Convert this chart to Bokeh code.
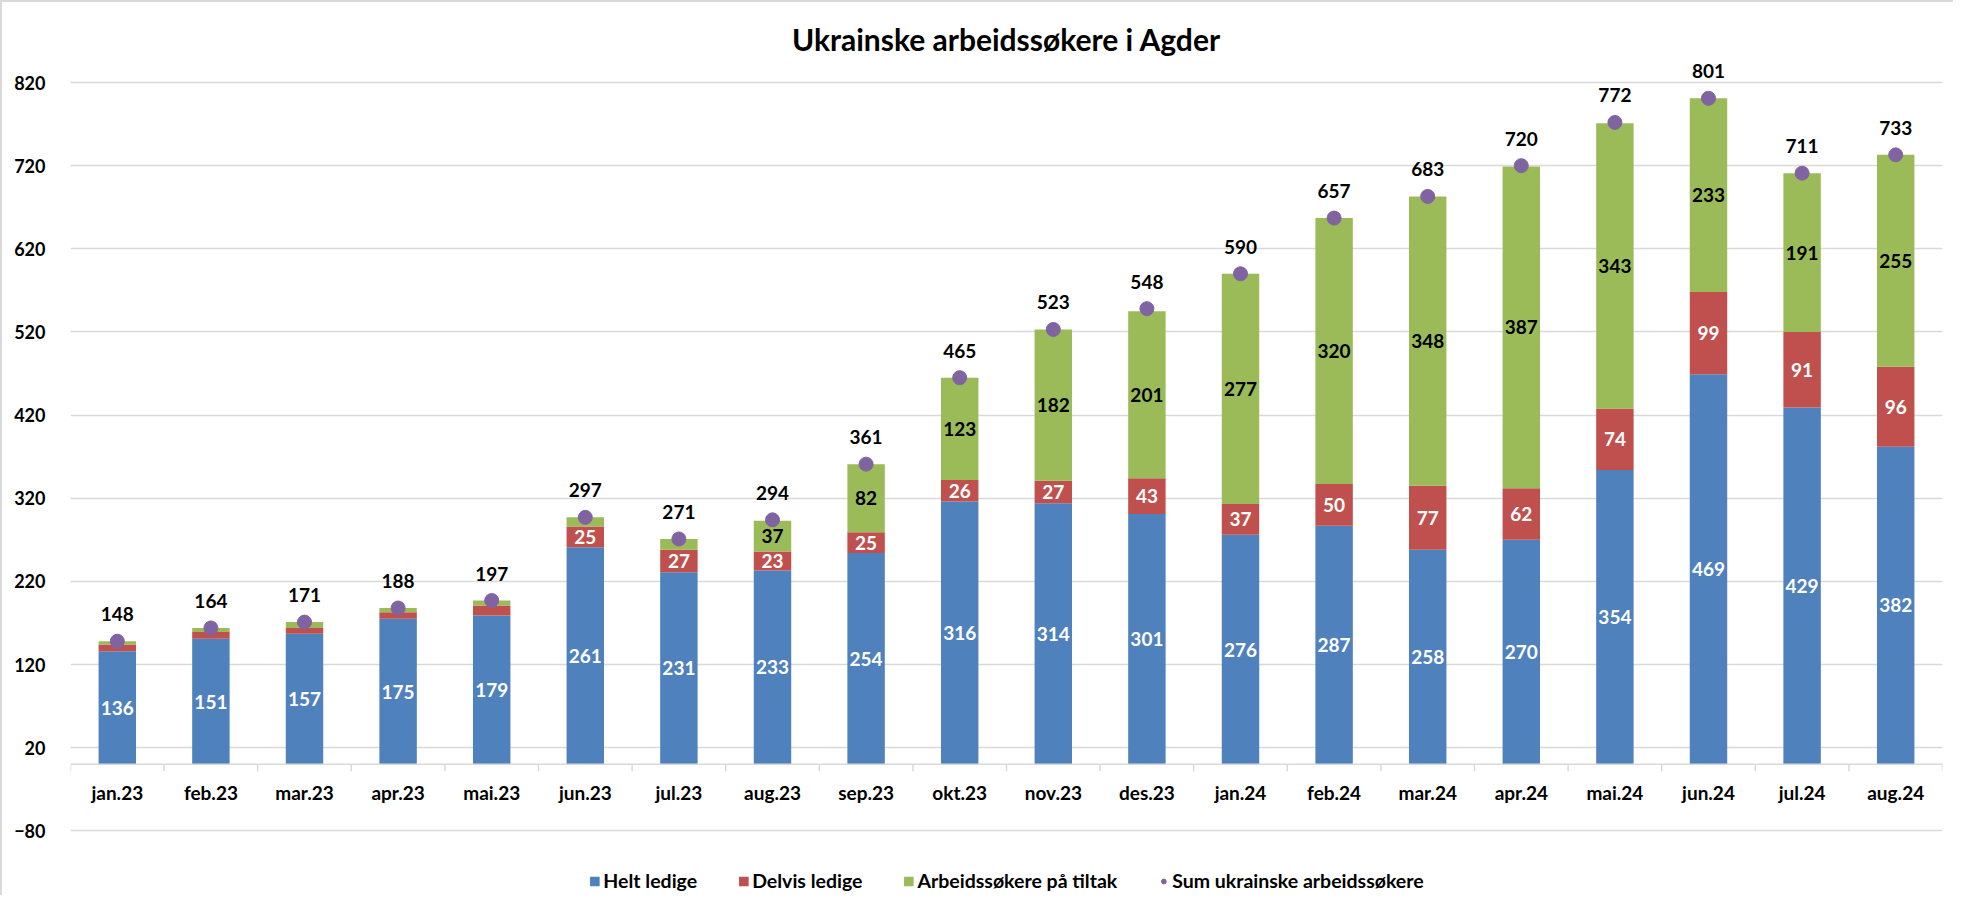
from bokeh.plotting import figure
from bokeh.models import ColumnDataSource, FixedTicker, Span, Legend, LegendItem, Range1d
from bokeh.transform import dodge
from bokeh.core.properties import value
from bokeh.embed import file_html
from bokeh.resources import INLINE

# ---------------- data ----------------
months = ["jan.23", "feb.23", "mar.23", "apr.23", "mai.23", "jun.23", "jul.23", "aug.23",
          "sep.23", "okt.23", "nov.23", "des.23", "jan.24", "feb.24", "mar.24", "apr.24",
          "mai.24", "jun.24", "jul.24", "aug.24"]
helt = [136, 151, 157, 175, 179, 261, 231, 233, 254, 316, 314, 301, 276, 287, 258, 270, 354, 469, 429, 382]
delvis = [8, 8, 7, 8, 12, 25, 27, 23, 25, 26, 27, 43, 37, 50, 77, 62, 74, 99, 91, 96]
tiltak = [4, 5, 7, 5, 6, 11, 13, 37, 82, 123, 182, 201, 277, 320, 348, 387, 343, 233, 191, 255]
sums = [148, 164, 171, 188, 197, 297, 271, 294, 361, 465, 523, 548, 590, 657, 683, 720, 772, 801, 711, 733]
y_ticks = [-80, 20, 120, 220, 320, 420, 520, 620, 720, 820]
series_names = ["Helt ledige", "Delvis ledige", "Arbeidssøkere på tiltak", "Sum ukrainske arbeidssøkere"]
title_text = "Ukrainske arbeidssøkere i Agder"

# ---------------- style ----------------
FONT = "Lato"
C_HELT, C_DELVIS, C_TILTAK, C_SUM = "#4F81BD", "#C0504D", "#9BBB59", "#8064A2"
GRID = "#D9D9D9"
W, H = 1953, 895

p = figure(x_range=months, y_range=Range1d(-157.8, 851.3), width=W, height=H,
           output_backend="svg", toolbar_location=None, x_axis_location=None,
           min_border_left=70, min_border_right=11, min_border_top=56, min_border_bottom=0,
           border_fill_alpha=0.0, outline_line_color=None)
p.styles = {"box-shadow": "inset 2px 2px 0 0 #D9D9D9"}

p.title.text = title_text
p.title.align = "center"
p.title.text_font = FONT
p.title.text_font_size = "30px"
p.title.text_font_style = "bold"
p.title.text_color = "#000000"
p.title.standoff = 0

p.yaxis.ticker = FixedTicker(ticks=y_ticks)
p.yaxis.axis_line_color = None
p.yaxis.major_tick_line_color = None
p.yaxis.minor_tick_line_color = None
p.yaxis.major_label_standoff = 19
p.yaxis.major_label_text_font = FONT
p.yaxis.major_label_text_font_style = "bold"
p.yaxis.major_label_text_font_size = "18px"
p.yaxis.major_label_text_color = "#000000"
p.ygrid.grid_line_color = GRID
p.ygrid.grid_line_width = 1.5
p.xgrid.visible = False

src = ColumnDataSource(dict(x=months, helt=helt, delvis=delvis, tiltak=tiltak, s=sums))
bars = p.vbar_stack(["helt", "delvis", "tiltak"], x="x", width=0.4,
                    color=[C_HELT, C_DELVIS, C_TILTAK], line_color=None, source=src)

# category axis line at 0 and boundary ticks
p.add_layout(Span(location=0, dimension="width", line_color=GRID, line_width=1.5))
TICK_LEN = 8.4
p.segment(x0=dodge("x", -0.5, range=p.x_range), y0=0, x1=dodge("x", -0.5, range=p.x_range),
          y1=-TICK_LEN, source=src, line_color=GRID, line_width=1.5)
last = ColumnDataSource(dict(x=[months[-1]]))
p.segment(x0=dodge("x", 0.5, range=p.x_range), y0=0, x1=dodge("x", 0.5, range=p.x_range),
          y1=-TICK_LEN, source=last, line_color=GRID, line_width=1.5)
p.text(x=months, y=[0] * len(months), text=months, y_offset=28, text_align="center",
       text_baseline="middle", text_font=value(FONT), text_font_style="bold",
       text_font_size="19px", text_color="#000000")

# sum markers
dots = p.scatter(x="x", y="s", size=14, color=C_SUM, source=src)

lab_kw = dict(text_align="center", text_baseline="middle", text_font=value(FONT),
              text_font_style="bold", text_font_size="19px")

# data labels
p.text(x=months, y=[h / 2 for h in helt], text=[str(v) for v in helt], text_color="white", **lab_kw)
di = [i for i, v in enumerate(delvis) if v >= 20]
p.text(x=[months[i] for i in di], y=[helt[i] + delvis[i] / 2 for i in di],
       text=[str(delvis[i]) for i in di], text_color="white", **lab_kw)
ti = [i for i, v in enumerate(tiltak) if v >= 20]
p.text(x=[months[i] for i in ti], y=[helt[i] + delvis[i] + tiltak[i] / 2 for i in ti],
       text=[str(tiltak[i]) for i in ti], text_color="#000000", **lab_kw)
p.text(x=months, y=sums, text=[str(v) for v in sums], y_offset=-27, text_color="#000000", **lab_kw)

legend = Legend(items=[LegendItem(label=series_names[0], renderers=[bars[0]]),
                       LegendItem(label=series_names[1], renderers=[bars[1]]),
                       LegendItem(label=series_names[2], renderers=[bars[2]]),
                       LegendItem(label=series_names[3], renderers=[dots])],
                orientation="horizontal", location="bottom_center",
                border_line_color=None, background_fill_alpha=0.0,
                label_text_font=FONT, label_text_font_style="bold", label_text_font_size="19.5px",
                label_text_color="#000000", glyph_width=12, glyph_height=12,
                spacing=40, padding=0, margin=3, label_standoff=3, label_height=22)
p.add_layout(legend)

open("out.html", "w").write(file_html(p, INLINE))
